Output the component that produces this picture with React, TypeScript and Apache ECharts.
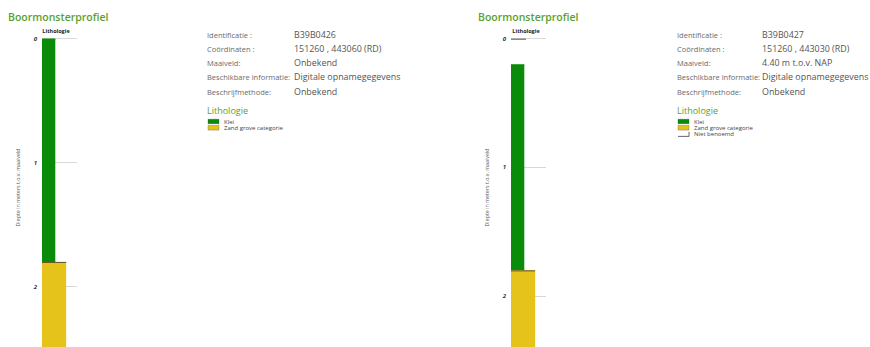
import React, { useEffect, useRef } from "react";
import * as echarts from "echarts";

// ---- data ----
const profileIds = ["B39B0426", "B39B0427"];
const infoLabels = ["Identificatie :", "Coördinaten :", "Maaiveld:", "Beschikbare informatie:", "Beschrijfmethode:"];
const infoValuesLeft = ["B39B0426", "151260 , 443060 (RD)", "Onbekend", "Digitale opnamegegevens", "Onbekend"];
const infoValuesRight = ["B39B0427", "151260 , 443030 (RD)", "4.40 m t.o.v. NAP", "Digitale opnamegegevens", "Onbekend"];
const depthTicks = [0, 1, 2];
const depthMax = 2.5;

// layer tops, bottoms, lithology names
const leftTops = [0, 1.8];
const leftBottoms = [1.8, 2.5];
const leftLith = ["Klei", "Zand grove categorie"];
const rightTops = [0, 0.2, 1.8];
const rightBottoms = [0.2, 1.8, 2.5];
const rightLith = ["Niet benoemd", "Klei", "Zand grove categorie"];
const leftLegend = ["Klei", "Zand grove categorie"];
const rightLegend = ["Klei", "Zand grove categorie", "Niet benoemd"];

// ---- styles ----
const lithStyle: Record<string, { fill: string; w: number; edge: string }> = {
  Klei: { fill: "#0a8c0a", w: 0.38, edge: "#0a8c0a" },
  "Zand grove categorie": { fill: "#e6c31b", w: 0.69, edge: "#5d5222" },
  "Niet benoemd": { fill: "none", w: 0.43, edge: "#555555" },
};
const FONT = "'Open Sans', 'Noto Sans', sans-serif";

function buildSeriesData(tops: number[], bottoms: number[], lith: string[]) {
  return tops.map((t, i) => [t, bottoms[i], lithStyle[lith[i]].w, i]);
}

function makeRender(lith: string[]) {
  return (params: any, api: any) => {
    const top = api.value(0);
    const bottom = api.value(1);
    const w = api.value(2);
    const idx = api.value(3);
    const st = lithStyle[lith[idx]];
    const p0 = api.coord([0, top]);
    const p1 = api.coord([w, bottom]);
    const children: any[] = [];
    if (st.fill !== "none") {
      children.push({
        type: "rect",
        shape: { x: p0[0], y: p0[1], width: p1[0] - p0[0], height: p1[1] - p0[1] },
        style: { fill: st.fill },
      });
    }
    children.push({
      type: "line",
      shape: { x1: p0[0], y1: p0[1] + 0.5, x2: p1[0], y2: p0[1] + 0.5 },
      style: { stroke: st.edge, lineWidth: 1 },
    });
    return { type: "group", children };
  };
}

function infoGraphics(x0: number, valuesX: number, values: string[], legend: string[]) {
  const rowsY = [35, 49, 63, 77, 91.5];
  const g: any[] = [];
  infoLabels.forEach((l, i) => {
    g.push({ type: "text", x: x0, y: rowsY[i], style: { text: l, fill: "#6a6a6a", font: `7.5px ${FONT}`, textVerticalAlign: "middle" } });
    g.push({ type: "text", x: valuesX, y: rowsY[i] - 0.5, style: { text: values[i], fill: "#555555", font: `8.9px ${FONT}`, textVerticalAlign: "middle" } });
  });
  g.push({ type: "text", x: x0, y: 110.5, style: { text: "Lithologie", fill: "#5aa02c", font: `9px ${FONT}`, textVerticalAlign: "middle" } });
  legend.forEach((name, i) => {
    const y = 121.5 + i * 6.3;
    const st = lithStyle[name];
    if (st.fill !== "none") {
      g.push({ type: "rect", shape: { x: x0 + 1, y: y - 2.3, width: 11, height: 4.6 }, style: { fill: st.fill, stroke: "#444", lineWidth: 0.3 } });
    } else {
      g.push({ type: "polyline", shape: { points: [[x0 + 1, y + 2.3], [x0 + 12, y + 2.3], [x0 + 12, y - 2.3]] }, style: { stroke: "#444", lineWidth: 0.8, fill: "none" } });
    }
    g.push({ type: "text", x: x0 + 17, y, style: { text: name, fill: "#444", font: `6px ${FONT}`, textVerticalAlign: "middle" } });
  });
  return g;
}

export default function App() {
  const ref = useRef<HTMLDivElement>(null);
  useEffect(() => {
    const chart = echarts.init(ref.current!, undefined, { renderer: "svg" });
    const grids = [
      { left: 42, top: 38.7, width: 35, height: depthMax * 124, outerBoundsMode: "none", containLabel: false },
      { left: 511, top: 38.7, width: 35, height: depthMax * 128.7, outerBoundsMode: "none", containLabel: false },
    ];
    const yAxisBase = (gi: number) => ({
      type: "value",
      gridIndex: gi,
      inverse: true,
      min: 0,
      max: depthMax,
      interval: 1,
      axisLine: { show: false },
      axisTick: { show: false },
      axisLabel: {
        margin: 5,
        fontSize: 6,
        fontWeight: "bold",
        fontStyle: "italic",
        color: "#333",
        fontFamily: FONT,
        formatter: (v: number) => (depthTicks.includes(v) ? String(v) : ""),
      },
      splitLine: { show: true, lineStyle: { color: "#d8d8d8", width: 1 } },
    });
    const xAxisBase = (gi: number) => ({
      type: "value",
      gridIndex: gi,
      min: 0,
      max: 1,
      show: false,
    });
    const graphics: any[] = [
      { type: "text", x: 8, y: 17, style: { text: "Boormonsterprofiel", fill: "#5aa02c", font: `600 10.5px ${FONT}`, textVerticalAlign: "middle" } },
      { type: "text", x: 478, y: 17, style: { text: "Boormonsterprofiel", fill: "#5aa02c", font: `600 10.5px ${FONT}`, textVerticalAlign: "middle" } },
      { type: "text", x: 56, y: 30.5, style: { text: "Lithologie", fill: "#222", font: `bold 5.5px ${FONT}`, textAlign: "center", textVerticalAlign: "middle" } },
      { type: "text", x: 526, y: 30.5, style: { text: "Lithologie", fill: "#222", font: `bold 5.5px ${FONT}`, textAlign: "center", textVerticalAlign: "middle" } },
      { type: "text", x: 18, y: 187.5, rotation: Math.PI / 2, style: { text: "Diepte in meters t.o.v. maaiveld", fill: "#555", font: `5.3px ${FONT}`, textAlign: "center", textVerticalAlign: "middle" } },
      { type: "text", x: 487, y: 187.5, rotation: Math.PI / 2, style: { text: "Diepte in meters t.o.v. maaiveld", fill: "#555", font: `5.3px ${FONT}`, textAlign: "center", textVerticalAlign: "middle" } },
      ...infoGraphics(207, 294, infoValuesLeft, leftLegend),
      ...infoGraphics(677, 762, infoValuesRight, rightLegend),
    ];
    chart.setOption({
      animation: false,
      grid: grids,
      xAxis: [xAxisBase(0), xAxisBase(1)],
      yAxis: [yAxisBase(0), yAxisBase(1)],
      series: [
        {
          name: profileIds[0],
          type: "custom",
          xAxisIndex: 0,
          yAxisIndex: 0,
          renderItem: makeRender(leftLith),
          data: buildSeriesData(leftTops, leftBottoms, leftLith),
          clip: false,
        },
        {
          name: profileIds[1],
          type: "custom",
          xAxisIndex: 1,
          yAxisIndex: 1,
          renderItem: makeRender(rightLith),
          data: buildSeriesData(rightTops, rightBottoms, rightLith),
          clip: false,
        },
      ],
      graphic: graphics,
    });
    return () => chart.dispose();
  }, []);
  return (
    <div
      ref={ref}
      style={{ position: "absolute", left: 0, top: 0, width: 870, height: 347, background: "#fff" }}
    />
  );
}
